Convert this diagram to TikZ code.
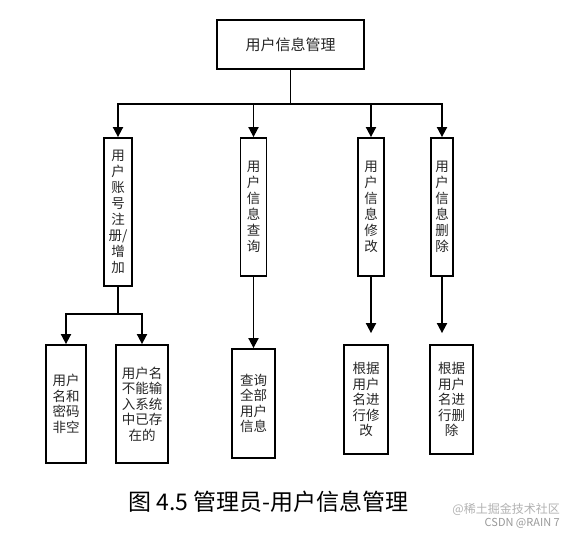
\documentclass[tikz,border=0pt]{standalone}
\usepackage{fontspec}
\setmainfont{Noto Sans CJK SC}
\usepackage{tikz}
\usetikzlibrary{arrows.meta, positioning}

\begin{document}
\begin{tikzpicture}[x=1pt, y=-1pt, line width=1.8pt,
    box/.style={rectangle, draw, inner sep=0pt, align=center, text=black!85, font=\fontsize{13.5}{15.5}\selectfont},
    tall/.style={box, minimum height=138pt, font=\fontsize{13.5}{16}\selectfont},
    arr/.style={-{Triangle[length=10pt, width=10pt]}},
    arrs/.style={{Triangle[length=10pt, width=10pt]}-{Triangle[length=10pt, width=10pt]}}]
        \useasboundingbox[fill=white] (0,0) rectangle (579,534);
        \node[box, minimum width=147pt, minimum height=49pt, font=\fontsize{15}{18}\selectfont] (UserInfo) at (290.5,44.5) {用户信息管理};
        \node[tall, minimum width=28pt, minimum height=148pt] (AddUser) at (118,212) {用\\户\\账\\号\\注\\册/\\增\\加};
        \node[tall, minimum width=26pt] (QueryUser) at (253.5,207) {用\\户\\信\\息\\查\\询};
        \node[tall, minimum width=26pt] (EditUser) at (371,207) {用\\户\\信\\息\\修\\改};
        \node[tall, minimum width=22pt] (DeleteUser) at (442,207) {用\\户\\信\\息\\删\\除};
        \coordinate (Split) at (290.5,104);
        \coordinate (SubSplit) at (118,314);
        \node[box, minimum width=40pt, minimum height=118pt] (NameNotEmpty) at (66,404) {用户\\名和\\密码\\非空};
        \node[box, minimum width=52pt, minimum height=118pt] (NameUnique) at (142,404) {用户名\\不能输\\入系统\\中已存\\在的};
        \node[box, minimum width=43pt, minimum height=109pt] (QueryAll) at (253.5,403.5) {查询\\全部\\用户\\信息};
        \node[box, minimum width=44pt, minimum height=109pt] (EditByName) at (366,399.5) {根据\\用户\\名进\\行修\\改};
        \node[box, minimum width=43pt, minimum height=109pt] (DeleteByName) at (451.5,399.5) {根据\\用户\\名进\\行删\\除};
        \draw (UserInfo.south) -- (Split);
        \draw[arrs] (AddUser.north) -- (AddUser.north |- Split) -- (DeleteUser.north |- Split) -- (DeleteUser.north);
        \foreach \n in {QueryUser, EditUser}
            \draw[arr] (\n.north |- Split) -- (\n.north);
        \draw (AddUser.south) -- (SubSplit);
        \draw[arrs] (NameNotEmpty.north) -- (NameNotEmpty.north |- SubSplit) -- (NameUnique.north |- SubSplit) -- (NameUnique.north);
        \draw[arr] (QueryUser.south) -- (QueryAll.north);
        \draw[arr, shorten >=11pt] (EditUser.south) -- (EditUser.south |- EditByName.north);
        \draw[arr, shorten >=11pt] (DeleteUser.south) -- (DeleteUser.south |- DeleteByName.north);
        \node[font=\fontsize{23}{26}\selectfont] (Caption) at (268.5,502) {图 4.5 管理员-用户信息管理};
        \node[anchor=east, text=black!30, font=\fontsize{12}{13}\selectfont] (Juejin) at (564,509) {@稀土掘金技术社区};
        \node[anchor=east, text=black!40, font=\fontsize{11}{12}\selectfont] (Csdn) at (564,523) {CSDN @RAIN 7};
\end{tikzpicture}
\end{document}
